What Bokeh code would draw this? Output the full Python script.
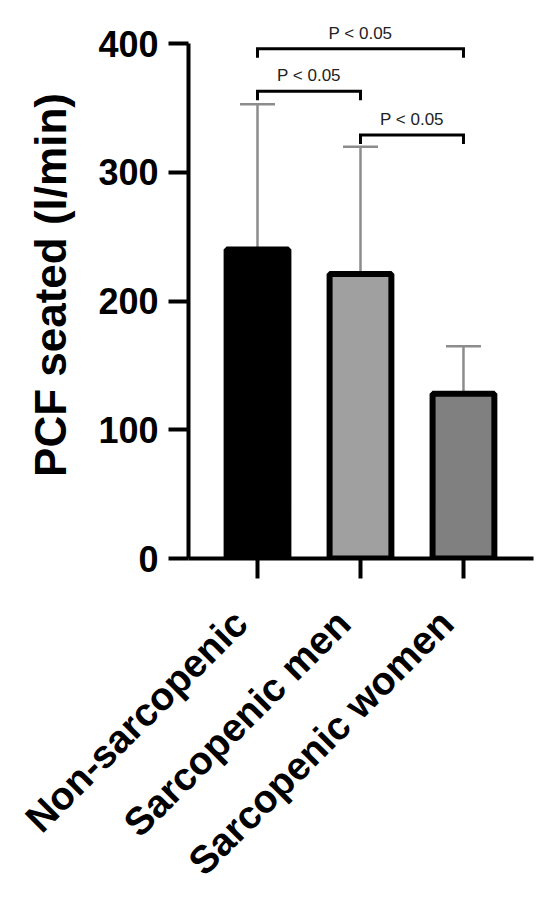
from math import pi
from bokeh.plotting import figure
from bokeh.models import (ColumnDataSource, Range1d, FixedTicker, Whisker,
                          TeeHead, LabelSet, LinearAxis)
from bokeh.core.properties import value
from bokeh.embed import file_html
from bokeh.resources import INLINE

# ---- data ----
categories = ["Non-sarcopenic", "Sarcopenic men", "Sarcopenic women"]
means = [240, 221, 128]
sd = [113, 99, 37]
bar_colors = ["#000000", "#a0a0a0", "#808080"]
y_ticks = [0, 100, 200, 300, 400]
comparisons = [("Non-sarcopenic", "Sarcopenic women"),
               ("Non-sarcopenic", "Sarcopenic men"),
               ("Sarcopenic men", "Sarcopenic women")]
bracket_levels = [396, 363, 329]
p_labels = ["P < 0.05", "P < 0.05", "P < 0.05"]
y_label = "PCF seated (l/min)"

FONT = "Liberation Sans"
BRACKET_DROP = 7
X_START, X_END = -0.67, 2.68
LABEL_SHIFT = 0.165  # rotated category labels sit slightly left of their ticks

xs = list(range(len(categories)))
upper = [m + s for m, s in zip(means, sd)]
src = ColumnDataSource(dict(x=xs, top=means, upper=upper, color=bar_colors))

p = figure(frame_width=345, frame_height=547,
           x_range=Range1d(X_START, X_END), y_range=Range1d(0, 425),
           output_backend="svg", toolbar_location=None,
           min_border_left=188, min_border_right=9,
           min_border_top=11, min_border_bottom=0)
p.outline_line_color = None
p.grid.visible = False
p.background_fill_color = "white"
p.border_fill_color = "white"

# error bars (upper only), beneath bars
w = Whisker(source=src, base="x", upper="upper", lower="top", dimension="height",
            line_color="#8c8c8c", line_width=2.5, lower_head=None,
            upper_head=TeeHead(size=35, line_color="#8c8c8c", line_width=2.5),
            level="underlay")
p.add_layout(w)

p.vbar(x="x", top="top", bottom=0, width=0.6, source=src,
       fill_color="color", line_color="black", line_width=6)

# significance brackets
bx, by, lx, ly = [], [], [], []
for (a, b), lev in zip(comparisons, bracket_levels):
    i, j = categories.index(a), categories.index(b)
    bx.append([i, i, j, j])
    by.append([lev - BRACKET_DROP, lev, lev, lev - BRACKET_DROP])
    lx.append((i + j) / 2)
    ly.append(lev)
p.multi_line(bx, by, line_color="black", line_width=3, line_join="miter")
psrc = ColumnDataSource(dict(x=lx, y=ly, text=p_labels))
p.add_layout(LabelSet(x="x", y="y", text="text", source=psrc, y_offset=10,
                      text_align="center", text_baseline="alphabetic",
                      text_font=value(FONT), text_font_size="17px",
                      text_color="#222222"))

# y axis
ya = p.yaxis[0]
ya.ticker = FixedTicker(ticks=y_ticks)
ya.bounds = (0, 400)
ya.axis_line_width = 4
ya.major_tick_line_width = 4
ya.major_tick_out = 20
ya.major_tick_in = 0
ya.minor_tick_out = 0
ya.minor_tick_in = 0
ya.major_label_text_font = FONT
ya.major_label_text_font_style = "bold"
ya.major_label_text_font_size = "36px"
ya.major_label_text_color = "black"
ya.major_label_standoff = 10
ya.axis_label = y_label
ya.axis_label_text_font = FONT
ya.axis_label_text_font_style = "bold"
ya.axis_label_text_font_size = "44px"
ya.axis_label_text_color = "black"
ya.axis_label_standoff = 20

# x axis: line and ticks
xa = p.xaxis[0]
xa.ticker = FixedTicker(ticks=xs)
xa.axis_line_width = 4
xa.major_tick_line_width = 4
xa.major_tick_out = 20
xa.major_tick_in = 0
xa.minor_tick_out = 0
xa.minor_tick_in = 0
xa.major_label_standoff = 0
xa.major_label_text_color = None

# rotated category labels on a label-only axis, nudged left of the ticks
p.extra_x_ranges = {"labels": Range1d(X_START + LABEL_SHIFT, X_END + LABEL_SHIFT)}
la = LinearAxis(x_range_name="labels", ticker=FixedTicker(ticks=xs),
                major_label_overrides={i: c for i, c in zip(xs, categories)},
                major_label_orientation=pi / 4,
                axis_line_color=None, major_tick_line_color=None,
                minor_tick_line_color=None, major_tick_out=0, major_tick_in=0,
                minor_tick_out=0, minor_tick_in=0,
                major_label_standoff=38,
                major_label_text_font=FONT,
                major_label_text_font_style="bold",
                major_label_text_font_size="39px",
                major_label_text_color="black")
p.add_layout(la, "below")

open("out.html", "w").write(file_html(p, INLINE))
